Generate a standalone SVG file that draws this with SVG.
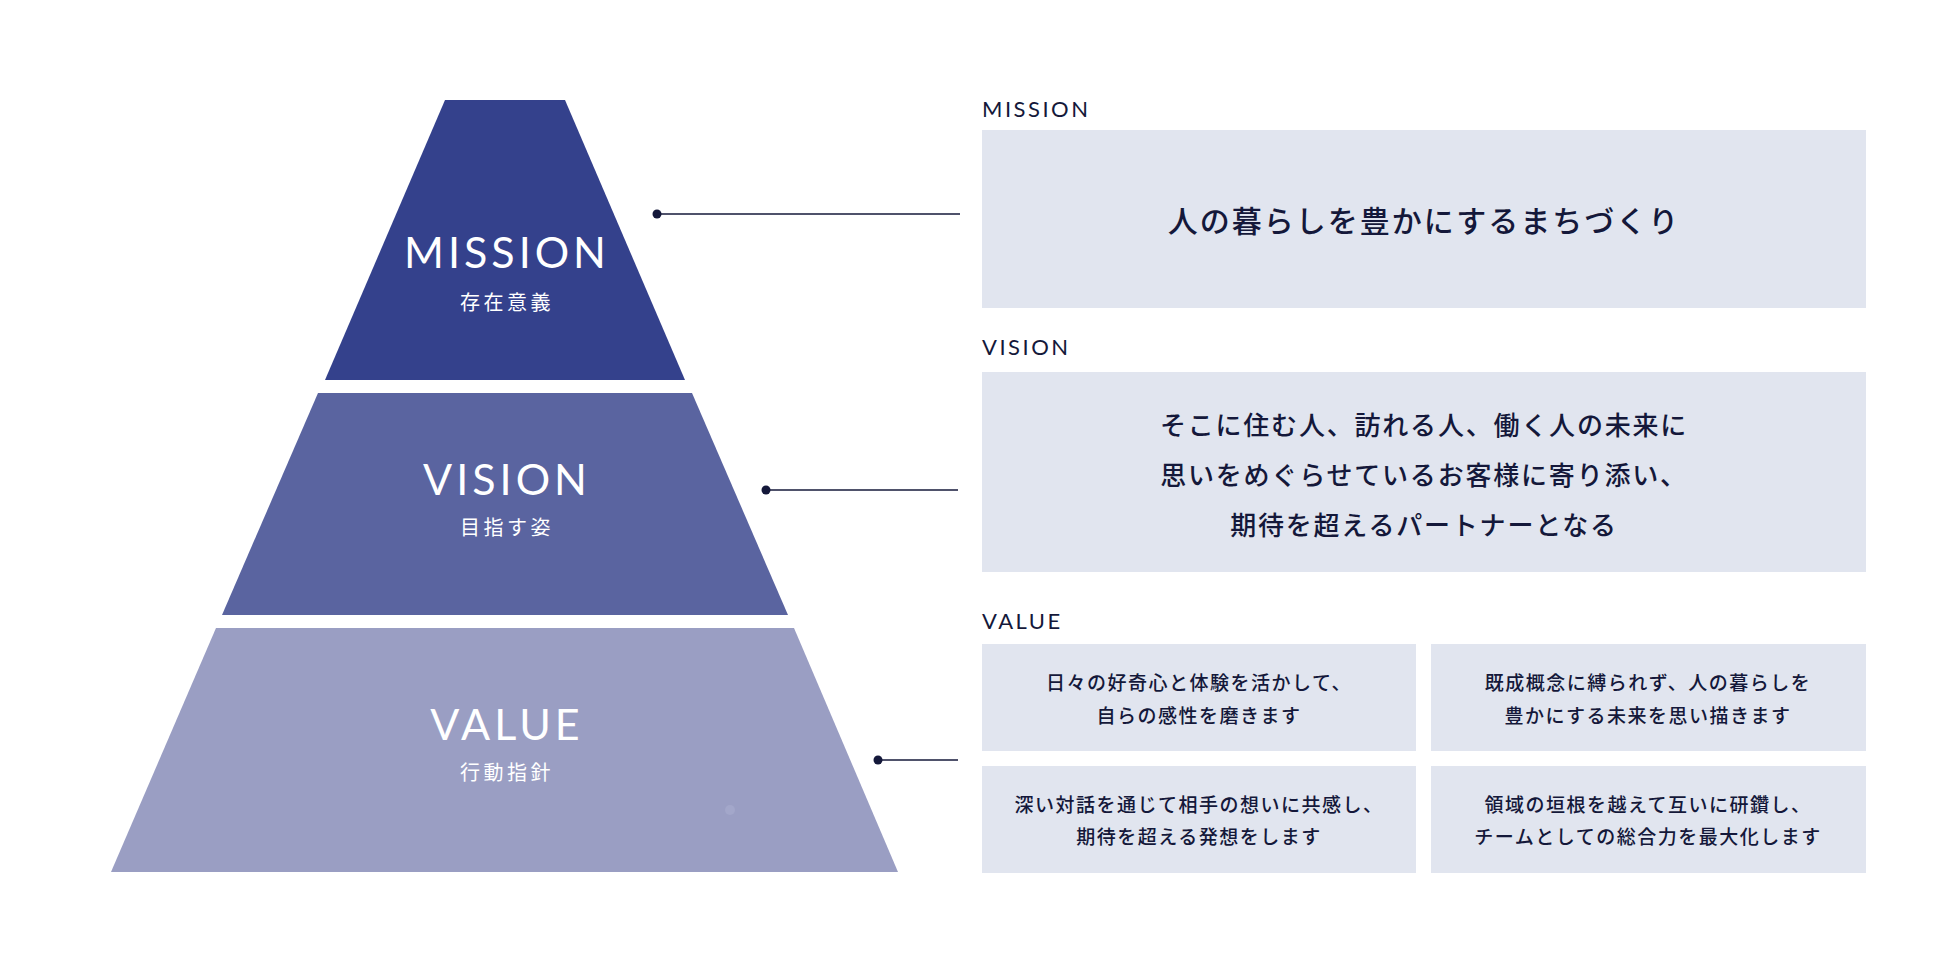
<svg xmlns="http://www.w3.org/2000/svg" width="1950" height="980" viewBox="0 0 1950 980">
<style>
.lat{font-family:Lato,"Noto Sans","Liberation Sans",sans-serif}
.jp{font-family:"Noto Sans CJK JP","Noto Sans",sans-serif}
.big{font-size:43px;fill:#ffffff;letter-spacing:4px}
.sub{font-size:20px;fill:#ffffff;letter-spacing:3.5px}
.lbl{font-size:22px;fill:#14183a;letter-spacing:2.5px}
.box{fill:#e1e5ef}
.t1{font-size:30px;fill:#14183a;letter-spacing:2px;font-weight:500}
.t2{font-size:26px;fill:#14183a;letter-spacing:1.8px;font-weight:500}
.t3{font-size:19px;fill:#14183a;letter-spacing:1.5px;font-weight:500}
.ln{stroke:#14183a;stroke-width:1.5;fill:none}
.dot{fill:#14183a}
</style>
<rect width="1950" height="980" fill="#ffffff"/>
<g id="pyramid-mission">
<polygon points="445,100 565,100 685,380 325,380" fill="#34418c"/>
<text class="lat big" x="507" y="268" text-anchor="middle">MISSION</text>
<text class="jp sub" x="507" y="310" text-anchor="middle">存在意義</text>
</g>
<g id="pyramid-vision">
<polygon points="318,393 692,393 788,615 222,615" fill="#5a64a0"/>
<text class="lat big" x="507" y="495" text-anchor="middle">VISION</text>
<text class="jp sub" x="507" y="535" text-anchor="middle">目指す姿</text>
</g>
<g id="pyramid-value">
<polygon points="216,628 794,628 898,872 111,872" fill="#9a9ec3"/>
<circle cx="730" cy="810" r="5" fill="#a3a7ca"/>
<text class="lat big" x="507" y="740" text-anchor="middle">VALUE</text>
<text class="jp sub" x="507" y="780" text-anchor="middle">行動指針</text>
</g>
<g id="connectors">
<line class="ln" x1="657" y1="214" x2="960" y2="214"/>
<circle class="dot" cx="657" cy="214" r="4.5"/>
<line class="ln" x1="766" y1="490" x2="958" y2="490"/>
<circle class="dot" cx="766" cy="490" r="4.5"/>
<line class="ln" x1="878" y1="760" x2="958" y2="760"/>
<circle class="dot" cx="878" cy="760" r="4.5"/>
</g>
<g id="mission-panel">
<text class="lat lbl" x="982" y="117">MISSION</text>
<rect class="box" x="982" y="130" width="884" height="178"/>
<text class="jp t1" x="1424" y="232" text-anchor="middle">人の暮らしを豊かにするまちづくり</text>
</g>
<g id="vision-panel">
<text class="lat lbl" x="982" y="355">VISION</text>
<rect class="box" x="982" y="372" width="884" height="200"/>
<text class="jp t2" x="1424" y="435" text-anchor="middle">そこに住む人、訪れる人、働く人の未来に</text>
<text class="jp t2" x="1424" y="485" text-anchor="middle">思いをめぐらせているお客様に寄り添い、</text>
<text class="jp t2" x="1424" y="535" text-anchor="middle">期待を超えるパートナーとなる</text>
</g>
<g id="value-panel">
<text class="lat lbl" x="982" y="629">VALUE</text>
</g>
<g id="value-1">
<rect class="box" x="982" y="644" width="434" height="107"/>
<text class="jp t3" x="1199" y="690" text-anchor="middle">日々の好奇心と体験を活かして、</text>
<text class="jp t3" x="1199" y="722.5" text-anchor="middle">自らの感性を磨きます</text>
</g>
<g id="value-2">
<rect class="box" x="1431" y="644" width="435" height="107"/>
<text class="jp t3" x="1648" y="690" text-anchor="middle">既成概念に縛られず、人の暮らしを</text>
<text class="jp t3" x="1648" y="722.5" text-anchor="middle">豊かにする未来を思い描きます</text>
</g>
<g id="value-3">
<rect class="box" x="982" y="766" width="434" height="107"/>
<text class="jp t3" x="1199" y="811.5" text-anchor="middle">深い対話を通じて相手の想いに共感し、</text>
<text class="jp t3" x="1199" y="843.5" text-anchor="middle">期待を超える発想をします</text>
</g>
<g id="value-4">
<rect class="box" x="1431" y="766" width="435" height="107"/>
<text class="jp t3" x="1648" y="811.5" text-anchor="middle">領域の垣根を越えて互いに研鑽し、</text>
<text class="jp t3" x="1648" y="843.5" text-anchor="middle">チームとしての総合力を最大化します</text>
</g>
</svg>
